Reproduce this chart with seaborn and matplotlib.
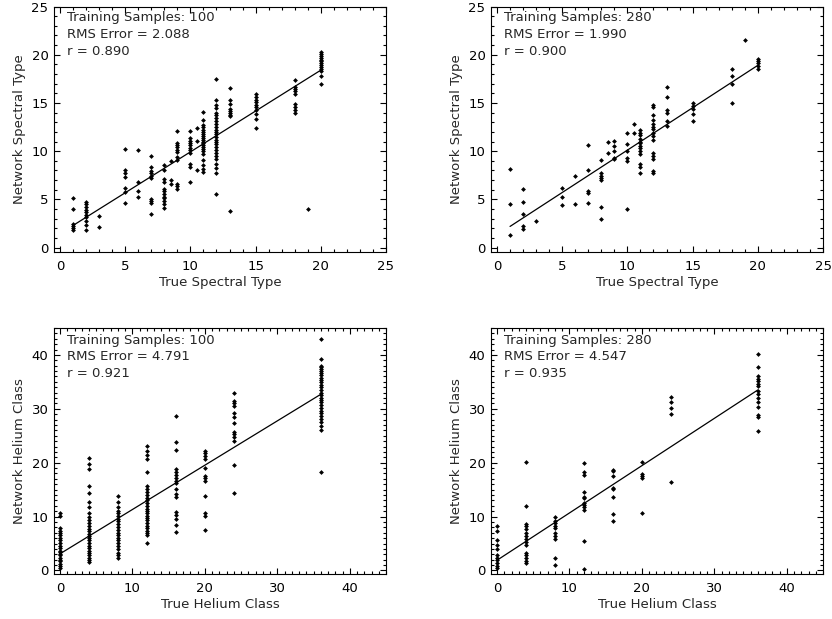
import pandas as pd
import matplotlib
matplotlib.use("Agg")
import matplotlib.pyplot as plt
from matplotlib.ticker import MultipleLocator
import seaborn as sns

# Spectral type network, 100 training samples: true type columns and network outputs
sp100_true = [1, 2, 3, 5, 6, 7, 8, 8.5, 9, 10, 10.5, 11, 12, 13, 15, 18, 19, 20]
sp100_net = [
    [5.1, 4.0, 2.4, 2.2, 2.0, 1.8],
    [4.7, 4.5, 4.2, 3.9, 3.7, 3.4, 3.2, 2.8, 2.3, 1.8],
    [3.3, 2.1],
    [10.2, 8.1, 7.7, 7.3, 6.2, 5.8, 4.6],
    [10.1, 6.8, 5.9, 5.2],
    [9.5, 8.4, 7.9, 7.7, 7.4, 7.2, 5.0, 4.8, 4.6, 3.5],
    [8.6, 8.1, 7.1, 6.8, 6.1, 5.9, 5.6, 5.3, 5.1, 4.8, 4.5, 4.1],
    [9.0, 7.0, 6.6],
    [12.1, 10.9, 10.6, 10.4, 10.1, 9.9, 9.4, 9.1, 6.6, 6.4, 6.1],
    [12.1, 11.4, 11.1, 10.8, 10.6, 10.3, 10.1, 9.8, 8.7, 8.4, 6.8],
    [12.4, 11.1, 8.1],
    [14.1, 13.2, 12.7, 12.5, 12.2, 12.0, 11.8, 11.6, 11.4, 11.2, 11.0,
     10.8, 10.6, 10.4, 10.2, 10.0, 9.7, 9.1, 8.6, 8.2, 7.8],
    [17.5, 15.3, 14.8, 14.5, 14.0, 13.7, 13.4, 13.1, 12.8, 12.5, 12.2, 12.0,
     11.8, 11.5, 11.2, 11.0, 10.7, 10.4, 10.1, 9.8, 9.5, 9.2, 8.7, 8.3, 7.7, 5.6],
    [16.5, 15.3, 14.9, 14.4, 14.2, 14.0, 13.8, 13.6, 3.8],
    [15.9, 15.6, 15.3, 15.1, 14.8, 14.6, 14.3, 13.9, 13.3, 12.4],
    [17.4, 16.7, 16.4, 16.2, 15.9, 14.9, 14.6, 14.3, 14.0],
    [4.0],
    [20.3, 20.1, 19.9, 19.7, 19.5, 19.3, 19.1, 18.9, 18.7, 18.5, 18.3, 17.8, 17.0],
]
sp100_fit_x = [1, 20]
sp100_fit_y = [2.3, 18.4]

# Spectral type network, 280 training samples
sp280_true = [1, 2, 3, 5, 6, 7, 8, 8.5, 9, 10, 10.5, 11, 12, 13, 15, 18, 19, 20]
sp280_net = [
    [8.2, 4.5, 1.3],
    [6.1, 4.7, 3.5, 2.2, 1.9],
    [2.8],
    [6.2, 5.3, 4.4],
    [7.4, 4.5],
    [10.6, 8.1, 5.9, 5.7, 4.6],
    [9.1, 7.7, 7.4, 7.2, 7.0, 4.2, 3.0],
    [11.0, 9.8],
    [11.1, 10.5, 10.0, 9.3, 9.2],
    [11.9, 10.7, 10.0, 9.3, 9.0, 4.0],
    [12.8, 11.9],
    [12.2, 11.9, 11.7, 11.3, 11.0, 10.8, 10.5, 10.3, 10.0, 9.7, 8.7, 8.4, 7.7],
    [14.8, 14.6, 13.7, 13.2, 12.8, 12.5, 12.3, 11.9, 11.6, 11.2, 9.8, 9.5, 9.2, 7.9, 7.7],
    [16.7, 15.6, 14.3, 14.0, 13.1, 12.6],
    [15.0, 14.7, 14.4, 13.9, 13.1],
    [18.5, 17.8, 17.0, 15.0],
    [21.5],
    [19.6, 19.3, 19.1, 18.8, 18.5],
]
sp280_fit_x = [1, 20]
sp280_fit_y = [2.2, 18.9]

# Helium class network, 100 training samples
he100_true = [0, 4, 8, 12, 16, 20, 24, 36]
he100_net = [
    [10.7, 10.1, 7.8, 7.4, 6.9, 6.5, 6.0, 5.6, 5.1, 4.6, 4.1, 3.7, 3.4, 3.1,
     2.8, 2.4, 2.0, 1.7, 1.2, 0.8, 0.4],
    [20.9, 19.8, 18.8, 15.7, 14.4, 12.8, 11.7, 10.7, 10.0, 9.4, 8.8, 8.2, 7.7,
     7.3, 6.8, 6.4, 6.0, 5.6, 5.1, 4.6, 4.1, 3.7, 3.3, 2.8, 2.4, 1.9, 1.5],
    [13.8, 12.7, 11.7, 11.1, 10.7, 10.2, 9.6, 9.1, 8.6, 8.0, 7.5, 7.0, 6.5,
     6.0, 5.6, 5.1, 4.5, 3.9, 3.3, 2.8, 2.4],
    [23.1, 22.2, 21.4, 20.6, 18.3, 15.6, 15.1, 14.5, 14.0, 13.5, 13.0, 12.5,
     12.0, 11.5, 11.1, 10.7, 10.2, 9.7, 9.3, 8.8, 8.3, 7.8, 7.4, 7.0, 6.6, 5.1],
    [28.7, 23.9, 22.4, 18.8, 18.3, 17.8, 17.2, 16.7, 16.2, 15.2, 14.2, 13.6,
     10.8, 10.3, 9.6, 8.5, 7.2],
    [22.2, 21.8, 21.2, 20.7, 19.0, 17.6, 17.1, 16.7, 13.8, 10.7, 10.2, 7.6],
    [32.9, 31.5, 31.0, 30.6, 29.3, 28.4, 27.3, 25.7, 25.3, 24.7, 24.1, 19.6, 14.4],
    [42.9, 39.2, 38.0, 37.7, 37.3, 37.0, 36.7, 36.2, 35.8, 35.4, 34.9, 34.4,
     34.0, 33.5, 32.9, 32.5, 32.1, 31.7, 31.2, 30.7, 30.2, 29.6, 29.2, 28.7,
     28.1, 27.5, 26.9, 26.1, 18.3],
]
he100_fit_x = [0, 36]
he100_fit_y = [3.1, 32.7]

# Helium class network, 280 training samples
he280_true = [0, 4, 8, 12, 16, 20, 24, 36]
he280_net = [
    [8.2, 7.3, 5.7, 4.7, 3.9, 2.8, 2.4, 1.9, 1.4, 0.9, 0.5],
    [20.1, 12.0, 8.6, 8.2, 7.7, 7.0, 6.4, 5.8, 5.3, 4.7, 3.3, 2.8, 2.4, 1.7, 1.3],
    [10.0, 9.2, 8.8, 8.3, 7.8, 7.0, 6.4, 5.9, 2.4, 1.1],
    [20.0, 18.2, 17.8, 14.5, 13.7, 13.4, 12.6, 12.1, 11.7, 11.3, 5.5, 0.2],
    [18.7, 18.4, 17.5, 15.4, 15.1, 13.6, 10.5, 9.2],
    [20.1, 17.9, 17.5, 17.1, 10.6],
    [32.2, 31.3, 30.2, 29.1, 16.4],
    [40.1, 37.7, 36.1, 35.6, 35.1, 34.7, 34.3, 33.3, 32.8, 32.0, 31.3, 30.3,
     28.9, 28.5, 25.8],
]
he280_fit_x = [0, 36]
he280_fit_y = [1.9, 33.5]

stats_text = [
    ["Training Samples: 100", "RMS Error = 2.088", "r = 0.890"],
    ["Training Samples: 280", "RMS Error = 1.990", "r = 0.900"],
    ["Training Samples: 100", "RMS Error = 4.791", "r = 0.921"],
    ["Training Samples: 280", "RMS Error = 4.547", "r = 0.935"],
]

sns.set_style("ticks")
plt.rcParams["font.family"] = ["DejaVu Sans"]
plt.rcParams["font.size"] = 9.5


def to_frame(cols, net):
    rows = [(c, v) for c, vals in zip(cols, net) for v in vals]
    return pd.DataFrame(rows, columns=["true", "net"])


W, H = 832, 619
fig = plt.figure(figsize=(W / 100, H / 100), dpi=100)


def box(l, t, r, b):
    return [l / W, 1 - b / H, (r - l) / W, (b - t) / H]


panels = [
    (box(54, 6.5, 386, 251.7), sp100_true, sp100_net, sp100_fit_x, sp100_fit_y,
     "spec", stats_text[0]),
    (box(491, 6.5, 823, 251.7), sp280_true, sp280_net, sp280_fit_x, sp280_fit_y,
     "spec", stats_text[1]),
    (box(54, 328, 386, 574), he100_true, he100_net, he100_fit_x, he100_fit_y,
     "he", stats_text[2]),
    (box(491, 328, 823, 574), he280_true, he280_net, he280_fit_x, he280_fit_y,
     "he", stats_text[3]),
]

for rect, cols, net, fx, fy, kind, txt in panels:
    ax = fig.add_axes(rect)
    df = to_frame(cols, net)
    sns.scatterplot(data=df, x="true", y="net", ax=ax, color="black",
                    marker="D", s=6, linewidth=0)
    sns.lineplot(x=fx, y=fy, ax=ax, color="black", linewidth=0.9)

    if kind == "spec":
        ax.set_xlim(-0.46, 25)
        ax.set_ylim(-0.42, 25)
        ax.xaxis.set_major_locator(MultipleLocator(5))
        ax.yaxis.set_major_locator(MultipleLocator(5))
        ax.set_xlabel("True Spectral Type")
        ax.set_ylabel("Network Spectral Type")
        ty = [0.955, 0.886, 0.816]
    else:
        ax.set_xlim(-0.83, 45)
        ax.set_ylim(-0.65, 45)
        ax.xaxis.set_major_locator(MultipleLocator(10))
        ax.yaxis.set_major_locator(MultipleLocator(10))
        ax.set_xlabel("True Helium Class")
        ax.set_ylabel("Network Helium Class")
        ty = [0.951, 0.883, 0.816]
    ax.xaxis.set_minor_locator(MultipleLocator(1))
    ax.yaxis.set_minor_locator(MultipleLocator(1))

    ax.tick_params(which="both", direction="in", top=True, right=True,
                   width=0.8, colors="black")
    ax.tick_params(which="major", length=4)
    ax.tick_params(which="minor", length=2)
    ax.tick_params(axis="x", pad=6)
    ax.tick_params(axis="y", pad=4)
    ax.xaxis.labelpad = 2
    ax.yaxis.labelpad = 4
    for sp in ax.spines.values():
        sp.set_linewidth(0.8)
        sp.set_color("black")

    for yy, t in zip(ty, txt):
        ax.text(0.04, yy, t, transform=ax.transAxes, va="center", ha="left")

fig.savefig("out.png", dpi=100)
